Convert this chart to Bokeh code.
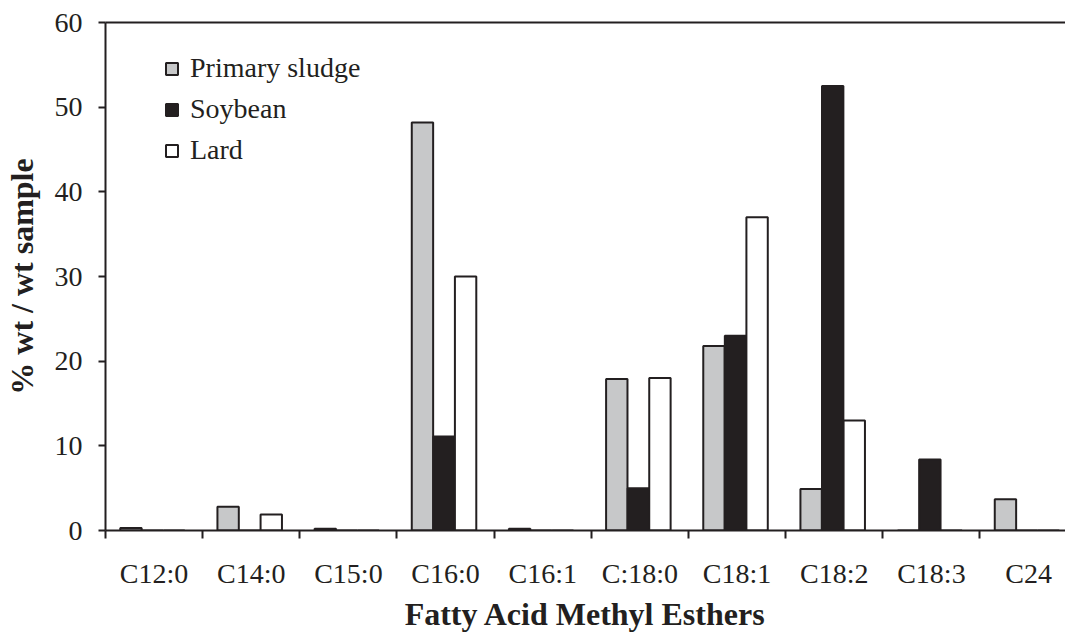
from bokeh.plotting import figure
from bokeh.models import Range1d, FixedTicker, LinearAxis, ColumnDataSource
from bokeh.embed import file_html
from bokeh.resources import INLINE

categories = ["C12:0", "C14:0", "C15:0", "C16:0", "C16:1", "C:18:0", "C18:1", "C18:2", "C18:3", "C24"]
primary_sludge = [0.3, 2.8, 0.2, 48.2, 0.2, 17.9, 21.8, 4.9, 0.0, 3.7]
soybean = [0.0, 0.0, 0.0, 11.1, 0.0, 5.0, 23.0, 52.5, 8.4, 0.0]
lard = [0.0, 1.9, 0.0, 30.0, 0.0, 18.0, 37.0, 13.0, 0.0, 0.0]
y_ticks = [0, 10, 20, 30, 40, 50, 60]

INK = "#231f20"
FONT = "Liberation Serif"

idx = list(range(len(categories)))
centers = [i + 0.5 for i in idx]

p = figure(width=1065, height=635, output_backend="svg", toolbar_location=None,
           x_range=Range1d(0, 9.88), y_range=Range1d(0, 60),
           min_border_left=105, min_border_right=0, min_border_top=22, min_border_bottom=105)
p.outline_line_color = None
p.grid.grid_line_color = None
p.background_fill_color = "white"

bw = 0.22
series = [("Primary sludge", primary_sludge, "#c7c8c9", -0.222),
          ("Soybean", soybean, INK, 0.0),
          ("Lard", lard, "white", 0.222)]
for name, vals, color, off in series:
    src = ColumnDataSource(dict(x=[c - 0.016 + off for c in centers], top=vals))
    p.vbar(x="x", top="top", width=bw, bottom=0, source=src, fill_color=color,
           line_color=INK, line_width=2, legend_label=name)

# x axis
xa = p.xaxis[0]
xa.ticker = FixedTicker(ticks=centers, minor_ticks=[float(i) for i in range(11)])
xa.major_label_overrides = {c: lab for c, lab in zip(centers, categories)}
xa.major_tick_line_color = None
xa.minor_tick_line_color = INK
xa.minor_tick_line_width = 2
xa.minor_tick_out = 8
xa.minor_tick_in = 0
xa.axis_line_color = INK
xa.axis_line_width = 2
xa.major_label_text_font = FONT
xa.major_label_text_font_size = "28px"
xa.major_label_text_color = INK
xa.major_label_standoff = 19
xa.axis_label = "Fatty Acid Methyl Esthers"
xa.axis_label_text_font = FONT
xa.axis_label_text_font_size = "32px"
xa.axis_label_text_font_style = "bold"
xa.axis_label_text_color = INK
xa.axis_label_standoff = 4

# y axis
ya = p.yaxis[0]
ya.ticker = FixedTicker(ticks=y_ticks, minor_ticks=[])
ya.major_tick_line_color = INK
ya.major_tick_line_width = 2
ya.major_tick_out = 7
ya.major_tick_in = 0
ya.axis_line_color = INK
ya.axis_line_width = 2
ya.major_label_text_font = FONT
ya.major_label_text_font_size = "28px"
ya.major_label_text_color = INK
ya.major_label_standoff = 16
ya.axis_label = "% wt / wt sample"
ya.axis_label_text_font = FONT
ya.axis_label_text_font_size = "32px"
ya.axis_label_text_font_style = "bold"
ya.axis_label_text_color = INK
ya.axis_label_standoff = 12

# top frame line
top = LinearAxis(ticker=FixedTicker(ticks=[]), major_label_text_font_size="0px",
                 axis_line_color=INK, axis_line_width=2,
                 major_tick_line_color=None, minor_tick_line_color=None)
p.add_layout(top, "above")

lg = p.legend[0]
lg.location = (59, 364)
lg.border_line_color = None
lg.background_fill_alpha = 0
lg.padding = 0
lg.margin = 0
lg.spacing = 9
lg.glyph_width = 15
lg.glyph_height = 15
lg.label_standoff = 11
lg.label_text_font = FONT
lg.label_text_font_size = "28px"
lg.label_text_color = INK
lg.label_height = 32

open("out.html", "w").write(file_html(p, INLINE))
